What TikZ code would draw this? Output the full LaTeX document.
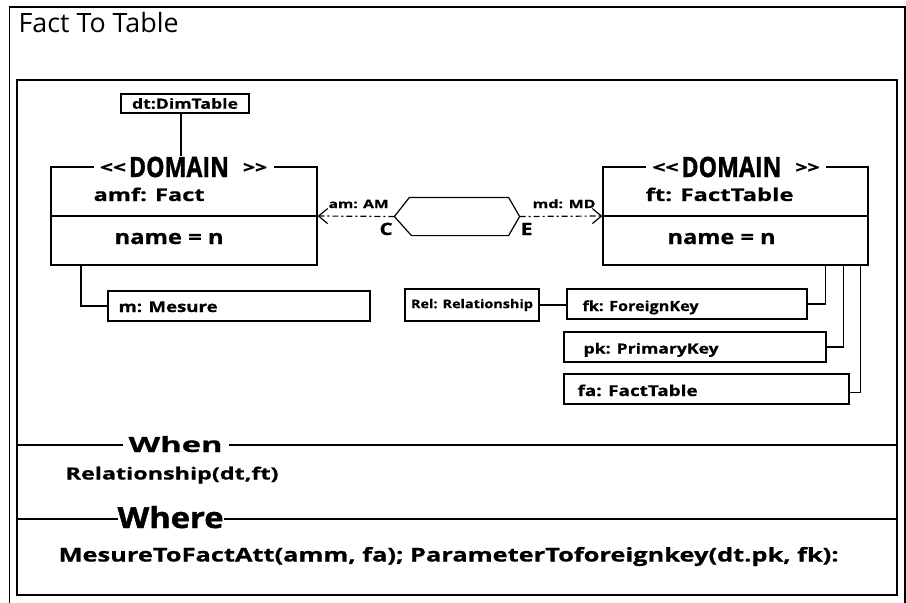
\documentclass[tikz,border=0pt]{standalone}
\usepackage{graphicx}
\usepackage{fontspec}
\setmainfont{Open Sans}
\newfontfamily\labelfont{Open Sans}[BoldFeatures={FakeBold=0.6}]
\newfontfamily\heavyfont{Open Sans}[BoldFeatures={FakeBold=1.4}]
\usetikzlibrary{arrows.meta,calc}

% set #3 bold at size #2 and stretch it to the width #1
\newcommand{\fw}[3]{\resizebox{#1}{\height}{\fontsize{#2}{#2}\selectfont\labelfont\bfseries #3}}
\newcommand{\fh}[3]{\resizebox{#1}{\height}{\fontsize{#2}{#2}\selectfont\heavyfont\bfseries #3}}
\newcommand{\domainlabel}{\raisebox{4pt}{\fh{26pt}{16pt}{<\kern0pt<}}\hspace{3pt}\fh{100pt}{28pt}{DOMAIN}\hspace{14pt}\raisebox{4pt}{\fh{24pt}{16pt}{>\kern0pt>}}}

\begin{document}
\begin{tikzpicture}[x=1pt,y=-1pt,line width=1.2pt,
  box/.style={draw,line width=1.3pt,inner sep=0pt,anchor=center},
  leaf/.style={box,minimum height=30pt},
  txt/.style={anchor=base west,inner sep=0pt},
  domainbox/.style={box,minimum width=266pt,minimum height=98pt},
  stereo/.style={fill=white,inner sep=0pt,minimum width=180pt,anchor=base},
  link/.style={line width=1.2pt,dash pattern=on 6pt off 3pt on 2pt off 3pt,-{Straight Barb[length=9pt,width=15pt,line width=1.2pt]}},
  sectionlabel/.style={fill=white,anchor=base west,inner ysep=0pt}]
\useasboundingbox (0,0) rectangle (906,603);

% outer and inner frames
\draw[line width=1.2pt] (9.5,603) -- (9.5,7) -- (905,7) -- (905,603);
\node[txt] (title) at (18,32) {\resizebox{160pt}{\height}{\fontsize{26.6}{26.6}\selectfont Fact To Table}};
\draw[line width=1.3pt] (17,80) rectangle (897,595);

% left domain object
\node[domainbox] (fact) at (184,216) {};
\draw (fact.west) -- (fact.east);
\node[stereo] (stL) at (183.5,177) {\domainlabel};
\node[txt] (amf) at (93,201) {\fw{111pt}{17.5pt}{amf: Fact}};
\node[txt] (nameL) at (114,244) {\fw{109pt}{20pt}{name = n}};

% dimension table above it
\node[box,minimum width=128pt,minimum height=19pt] (dt) at (185,103.5) {\fw{106pt}{14pt}{dt:DimTable}};
\draw (dt.south -| 181,0) -- (stL.north -| 181,0);

% right domain object
\node[domainbox,minimum width=265pt] (ftab) at (735.5,216) {};
\draw (ftab.west) -- (ftab.east);
\node[stereo] (stR) at (736,177) {\domainlabel};
\node[txt] (ftn) at (645,201) {\fw{148pt}{17.5pt}{ft: FactTable}};
\node[txt] (nameR) at (667,244) {\fw{108pt}{20pt}{name = n}};

% transformation hexagon between them
\node[minimum width=124pt,minimum height=37pt,inner sep=0pt] (hex) at (457,216.5) {};
\draw[line width=1.2pt] (hex.west) -- ([xshift=15pt]hex.north west) -- ([xshift=-11pt]hex.north east)
  -- (hex.east) -- ([xshift=-11pt]hex.south east) -- ([xshift=17pt]hex.south west) -- cycle;
\draw[link] (hex.west) -- (fact.east);
\draw[link] (hex.east) -- (ftab.west);
\node[txt] (amlab) at (328,208) {\fw{60pt}{11.5pt}{am: AM}};
\node[txt] (clab) at (379,235) {\fw{13pt}{17pt}{C}};
\node[txt] (mdlab) at (532,208) {\fw{63pt}{11.5pt}{md: MD}};
\node[txt] (elab) at (520,235) {\fw{12pt}{17pt}{E}};

% attribute boxes
\node[leaf,minimum width=262pt] (m) at (239,306) {};
\node[txt] (mtxt) at (118,312) {\fw{99pt}{15pt}{m: Mesure}};
\node[box,minimum width=134pt,minimum height=32pt] (rel) at (472,305) {\fw{122pt}{12pt}{Rel: Relationship}};
\node[leaf,minimum width=240pt] (fk) at (687,304) {};
\node[txt] (fktxt) at (582,311) {\fw{116pt}{14pt}{fk: ForeignKey}};
\node[leaf,minimum width=262pt] (pk) at (695,347) {};
\node[txt] (pktxt) at (583,353.5) {\fw{135pt}{14pt}{pk: PrimaryKey}};
\node[leaf,minimum width=285pt] (fa) at (706.5,389) {};
\node[txt] (fatxt) at (577,396) {\fw{120pt}{15pt}{fa: FactTable}};

% attribute links
\draw (fact.south -| 81,0) |- (m.west);
\draw (rel.east) -- (fk.west |- rel.east);
\draw (fk.east) -| ([xshift=-43pt]ftab.south east);
\draw (pk.east) -| ([xshift=-25pt]ftab.south east);
\draw ([yshift=-3.5pt]fa.east) -| ([xshift=-8pt]ftab.south east);

% when / where sections
\draw[line width=1.2pt] (17,445) -- (897,445);
\node[sectionlabel,inner xsep=6pt] (when) at (122,452) {\fw{94pt}{21pt}{When}};
\node[txt] (cond) at (65,479.5) {\fw{213pt}{16.8pt}{Relationship(dt,ft)}};
\draw[line width=1.2pt] (17,519) -- (897,519);
\node[sectionlabel,inner xsep=0pt] (where) at (117,528) {\fh{106pt}{29pt}{Where}};
\node[txt] (rule) at (58,561.5) {\fw{780pt}{19pt}{MesureToFactAtt(amm, fa); ParameterToforeignkey(dt.pk, fk):}};
\end{tikzpicture}
\end{document}
